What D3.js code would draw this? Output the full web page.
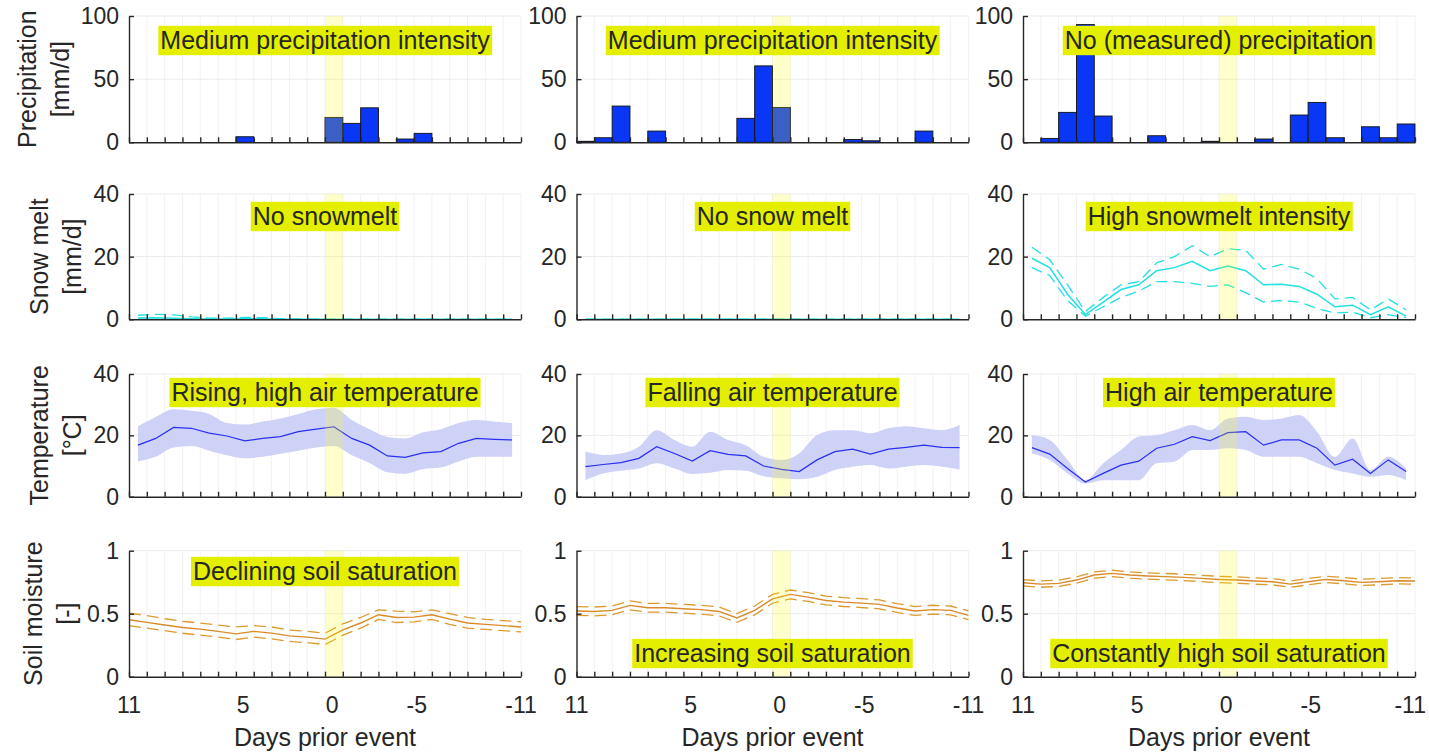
<!DOCTYPE html>
<html><head><meta charset="utf-8">
<script src="https://cdn.jsdelivr.net/npm/d3@7"></script>
<style>
body{margin:0;background:#fff}
svg{display:block}
text{font-family:"Liberation Sans",Arial,Helvetica,sans-serif;fill:#262626}
</style>
</head><body>
<svg id="chart" width="1429" height="754"></svg>
<script>
// ---------------- DATA ----------------
const xTickLabels = ["11", "5", "0", "-5", "-11"];
const xTickPos = [0, 6.4, 11.4, 16.15, 22];   // positions in bin units (0..22)
const eventBin = 11;                          // highlighted day-0 bin
const xTitle = "Days prior event";

// precipitation [mm/d], one value per daily bin (22 bins)
const precipCol1 = [0,0,0,0,0,0,4.4,0,0,0,0,19.7,15,27.3,0,2.6,7.1,0,0,0,0,0];
const precipCol2 = [0.8,3.6,28.7,0,8.9,0,0,0,0,19,60.5,27.6,0,0,0,2.2,1.2,0,0,8.9,0,0];
const precipCol3 = [0,3.1,23.7,93.2,20.8,0,0,5.2,0,0,0.8,0,0,2.6,0,21.6,31.6,3.6,0,12.3,3.6,14.5];

// snow melt [mm/d] (mean, upper, lower), bin centres
const snowMeanCol1 = [0.4,0.5,0.3,0.2,0.1,0.1,0.2,0.2,0,0,0,0,0,0,0,0,0,0,0,0,0,0];
const snowUpCol1   = [1.3,1.6,1.4,0.8,0.4,0.4,0.6,0.5,0.2,0.1,0,0,0,0,0,0,0,0,0,0,0,0];
const snowLoCol1   = [0,0,0,0,0,0,0,0,0,0,0,0,0,0,0,0,0,0,0,0,0,0];
const snowMeanCol2 = [0,0,0,0,0,0,0,0,0,0,0,0,0,0,0,0,0,0,0,0,0,0];
const snowUpCol2   = [0,0,0,0,0,0,0,0,0,0,0,0,0,0,0,0,0,0,0,0,0,0];
const snowLoCol2   = [0,0,0,0,0,0,0,0,0,0,0,0,0,0,0,0,0,0,0,0,0,0];
const snowMeanCol3 = [19.5,16.5,8,1.5,5.5,9.5,11,15.5,16.5,18.5,15.5,17,15.5,11,11.2,10.5,8,4,4.5,1.5,4,1];
const snowUpCol3   = [23,19,11,2.5,7,11,12,18,20,23.5,20,22.5,22,16,17.5,16,13,6.5,7,3,6.5,3];
const snowLoCol3   = [16.5,14,6,1,4,7,9,12,12,11.5,10.5,11,8.5,5.5,6,5.5,3.5,2,2.3,0.5,1.5,0.5];

// air temperature [°C] (mean, band upper, band lower), bin centres
const tempMeanCol1 = [16.8,19,22.6,22.3,20.7,19.8,18.2,19,19.6,21.2,22,22.8,19,16.8,13.3,12.8,14.3,14.7,17.4,19,18.7,18.5];
const tempUpCol1   = [23,26,28.5,28,27,24,23.5,24.5,25.5,27,28.5,29,25,22,19.5,19,21,22,24,25,24.5,24];
const tempLoCol1   = [11.5,13,16,16.5,15,13.5,12.5,13,14,15,16,16.5,13.5,11,8,7.5,9,9.5,11.5,13,13,13];
const tempMeanCol2 = [9.8,10.5,11.1,12.5,16.3,14.1,11.6,15,13.8,13.3,10,8.9,8.2,12,14.7,15.5,13.9,15.5,16.1,16.8,16.1,16];
const tempUpCol2   = [14.7,13.6,14.1,16.3,21.7,18.5,16.3,21.2,18.5,16.8,13,12,14.1,20.1,21.7,21.7,20.7,22.3,23,22.3,21.7,23.4];
const tempLoCol2   = [5.4,7.6,8.5,9.2,10.9,9.2,7.4,7.8,8.7,8.5,6.7,6,5.7,6.5,8.7,9.8,10.3,9.2,9.8,10.3,9.8,8.9];
const tempMeanCol3 = [16,13.9,9.2,4.8,7.6,10.3,11.6,15.8,17.1,19.6,18.3,20.9,21.2,16.8,18.5,18.5,15.8,10.3,12.2,7.6,12,8.2];
const tempUpCol3   = [20.1,18.5,12,5.4,10.9,15.2,19.6,20.1,21.7,23.4,21.7,25.5,26.1,25,25.5,26.6,21.2,13,19,8.7,13,9.2];
const tempLoCol3   = [14.1,12,7.6,4.3,5.4,5.4,5.4,10.9,11.4,15.2,15.2,15.8,15.2,13,13,13,10.9,8.7,7.6,6.5,7.1,5.4];

// soil moisture [-] (mean, upper, lower), at the 23 day ticks
const soilMeanCol1 = [0.452,0.431,0.41,0.39,0.378,0.36,0.34,0.36,0.346,0.324,0.314,0.298,0.372,0.426,0.492,0.47,0.473,0.492,0.457,0.426,0.415,0.405,0.395];
const soilUpCol1   = [0.505,0.485,0.46,0.44,0.425,0.41,0.395,0.405,0.395,0.37,0.36,0.345,0.42,0.47,0.53,0.52,0.515,0.53,0.5,0.47,0.455,0.445,0.435];
const soilLoCol1   = [0.405,0.385,0.365,0.345,0.33,0.315,0.295,0.315,0.3,0.28,0.27,0.255,0.33,0.385,0.455,0.43,0.435,0.455,0.415,0.385,0.375,0.365,0.355];
const soilMeanCol2 = [0.521,0.518,0.526,0.566,0.547,0.547,0.539,0.532,0.518,0.466,0.526,0.618,0.653,0.632,0.605,0.592,0.584,0.574,0.545,0.521,0.532,0.526,0.487];
const soilUpCol2   = [0.556,0.553,0.561,0.601,0.582,0.582,0.574,0.567,0.553,0.501,0.561,0.653,0.688,0.667,0.64,0.627,0.619,0.609,0.58,0.556,0.567,0.561,0.522];
const soilLoCol2   = [0.486,0.483,0.491,0.531,0.512,0.512,0.504,0.497,0.483,0.431,0.491,0.583,0.618,0.597,0.57,0.557,0.549,0.539,0.51,0.486,0.497,0.491,0.452];
const soilMeanCol3 = [0.746,0.735,0.741,0.767,0.807,0.82,0.807,0.799,0.794,0.788,0.78,0.772,0.767,0.759,0.754,0.735,0.754,0.772,0.762,0.749,0.754,0.762,0.759];
const soilUpCol3   = [0.771,0.76,0.766,0.792,0.832,0.845,0.832,0.824,0.819,0.813,0.805,0.797,0.792,0.784,0.779,0.76,0.779,0.797,0.787,0.774,0.779,0.787,0.784];
const soilLoCol3   = [0.721,0.71,0.716,0.742,0.782,0.795,0.782,0.774,0.769,0.763,0.755,0.747,0.742,0.734,0.729,0.71,0.729,0.747,0.737,0.724,0.729,0.737,0.734];

// y-axis ticks and titles
const precipTicks = [0, 50, 100];
const snowTicks = [0, 20, 40];
const tempTicks = [0, 20, 40];
const soilTicks = [0, 0.5, 1];
const rowTitles = [["Precipitation", "[mm/d]"], ["Snow melt", "[mm/d]"], ["Temperature", "[°C]"], ["Soil moisture", "[-]"]];

// panel annotations
const precipNotes = ["Medium precipitation intensity", "Medium precipitation intensity", "No (measured) precipitation"];
const snowNotes = ["No snowmelt", "No snow melt", "High snowmelt intensity"];
const tempNotes = ["Rising, high air temperature", "Falling air temperature", "High air temperature"];
const soilNotes = ["Declining soil saturation", "Increasing soil saturation", "Constantly high soil saturation"];
const soilNoteAtBottom = [false, true, true];

// ---------------- LAYOUT ----------------
const svg = d3.select("#chart");
const SVG_W = 1429;
const colX = [129, 576.5, 1023];
const W = 392;
const rowBox = [[16, 142.3], [194, 319.3], [374, 496.7], [550.7, 676.7]];
const noteCy = [40.5, 216.5, 392.5, 571.5];
const noteCyBottom = 653.5;
const INK = "#262626";
const TICK_FS = 23, LABEL_FS = 25;

const rowDefs = [
  {ticks: precipTicks, max: 100, notes: precipNotes, fmt: d3.format("d")},
  {ticks: snowTicks, max: 40, notes: snowNotes, fmt: d3.format("d")},
  {ticks: tempTicks, max: 40, notes: tempNotes, fmt: d3.format("d")},
  {ticks: soilTicks, max: 1, notes: soilNotes, fmt: d => d === 0.5 ? "0.5" : String(d)}
];
const precipData = [precipCol1, precipCol2, precipCol3];
const snowData = [[snowMeanCol1, snowUpCol1, snowLoCol1], [snowMeanCol2, snowUpCol2, snowLoCol2], [snowMeanCol3, snowUpCol3, snowLoCol3]];
const tempData = [[tempMeanCol1, tempUpCol1, tempLoCol1], [tempMeanCol2, tempUpCol2, tempLoCol2], [tempMeanCol3, tempUpCol3, tempLoCol3]];
const soilData = [[soilMeanCol1, soilUpCol1, soilLoCol1], [soilMeanCol2, soilUpCol2, soilLoCol2], [soilMeanCol3, soilUpCol3, soilLoCol3]];

const tickIdx = d3.range(23);

rowDefs.forEach((rd, r) => {
  const [top, bot] = rowBox[r];
  let minLabelX = 0;
  for (let c = 0; c < 3; c++) {
    const x = d3.scaleLinear().domain([0, 22]).range([colX[c], colX[c] + W]);
    const y = d3.scaleLinear().domain([0, rd.max]).range([bot, top]);
    const g = svg.append("g");

    // grid
    g.append("g").selectAll("line").data(tickIdx.slice(1)).join("line")
      .attr("x1", d => x(d)).attr("x2", d => x(d)).attr("y1", top).attr("y2", bot)
      .attr("stroke", "#f2f2f2").attr("stroke-width", 1);
    g.append("g").selectAll("line").data(rd.ticks.slice(1)).join("line")
      .attr("x1", x(0)).attr("x2", x(22)).attr("y1", d => y(d)).attr("y2", d => y(d))
      .attr("stroke", "#ebebeb").attr("stroke-width", 1);

    if (r === 0) {
      g.append("g").selectAll("rect").data(precipData[c]).join("rect")
        .attr("x", (d, i) => x(i)).attr("width", x(1) - x(0))
        .attr("y", d => y(d)).attr("height", d => y(0) - y(d))
        .attr("fill", "#0a37f5").attr("stroke", "#111").attr("stroke-width", 0.9);
    } else if (r === 1) {
      const [m, u, l] = snowData[c];
      const line = arr => d3.line().x((d, i) => x(i + 0.5)).y(d => y(d))(arr);
      [u, l].forEach(a => g.append("path").attr("d", line(a)).attr("fill", "none")
        .attr("stroke", "#22e0e0").attr("stroke-width", 1.3).attr("stroke-dasharray", "11,6"));
      g.append("path").attr("d", line(m)).attr("fill", "none").attr("stroke", "#22e0e0").attr("stroke-width", 1.5);
    } else if (r === 2) {
      const [m, u, l] = tempData[c];
      const area = d3.area().x((d, i) => x(i + 0.5)).y0((d, i) => y(l[i])).y1(d => y(d)).curve(d3.curveMonotoneX);
      g.append("path").attr("d", area(u)).attr("fill", "#cfd2f7").attr("stroke", "none");
      g.append("path").attr("d", d3.line().x((d, i) => x(i + 0.5)).y(d => y(d))(m))
        .attr("fill", "none").attr("stroke", "#2a2ff0").attr("stroke-width", 1.2);
    } else {
      const [m, u, l] = soilData[c];
      const line = arr => d3.line().x((d, i) => x(i)).y(d => y(d))(arr);
      [u, l].forEach(a => g.append("path").attr("d", line(a)).attr("fill", "none")
        .attr("stroke", "#dc9a2e").attr("stroke-width", 1.3).attr("stroke-dasharray", "12,6"));
      g.append("path").attr("d", line(m)).attr("fill", "none").attr("stroke", "#d98a2a").attr("stroke-width", 1.4);
    }

    // event band
    g.append("rect").attr("x", x(eventBin)).attr("width", x(eventBin + 1) - x(eventBin))
      .attr("y", top).attr("height", bot - top).attr("fill", "#ffff00").attr("opacity", 0.2);

    // axes
    const ya = g.append("g").attr("transform", `translate(${x(0)},0)`)
      .call(d3.axisLeft(y).tickValues(rd.ticks).tickFormat(rd.fmt).tickSizeInner(-5).tickSizeOuter(0).tickPadding(10));
    ya.selectAll("text").attr("font-size", TICK_FS).style("fill", INK);
    ya.selectAll("line,path").attr("stroke", INK).attr("stroke-width", 1.4);
    if (c === 0) {
      ya.selectAll(".tick text").each(function () {
        const b = this.getBBox();
        minLabelX = Math.min(minLabelX, b.x);
      });
    }
    const xa = g.append("g").attr("transform", `translate(0,${bot})`)
      .call(d3.axisBottom(x).tickValues(tickIdx).tickFormat("").tickSizeInner(-5).tickSizeOuter(0));
    xa.selectAll("line,path").attr("stroke", INK).attr("stroke-width", 1.4);

    if (r === 3) {
      g.append("g").selectAll("text").data(xTickLabels).join("text")
        .attr("x", (d, i) => x(xTickPos[i])).attr("y", bot + 36)
        .attr("text-anchor", "middle").attr("font-size", TICK_FS).text(d => d)
        .each(function () {
          // keep labels inside the page
          const b = this.getBBox();
          const over = b.x + b.width - (SVG_W - 3);
          if (over > 0) d3.select(this).attr("x", +d3.select(this).attr("x") - over);
        });
      g.append("text").attr("x", x(11)).attr("y", 746).attr("text-anchor", "middle")
        .attr("font-size", LABEL_FS).text(xTitle);
    }

    // annotation
    const cy = (r === 3 && soilNoteAtBottom[c]) ? noteCyBottom : noteCy[r];
    const ng = g.append("g");
    const t = ng.append("text").attr("x", x(11)).attr("y", cy).attr("dy", "0.35em")
      .attr("text-anchor", "middle").attr("font-size", LABEL_FS).text(rd.notes[c]);
    const bb = t.node().getBBox();
    ng.insert("rect", "text").attr("x", bb.x - 2).attr("width", bb.width + 4)
      .attr("y", cy - 14.7).attr("height", 29.4).attr("fill", "#e4ef00");
  }
  // row title (two lines, rotated)
  const l2 = colX[0] + minLabelX - 21;
  const l1 = l2 - 33;
  const cyRow = (top + bot) / 2;
  rowTitles[r].forEach((s, k) => {
    const xx = k === 0 ? l1 : l2;
    svg.append("text").attr("transform", `translate(${xx},${cyRow}) rotate(-90)`)
      .attr("text-anchor", "middle").attr("dominant-baseline", "central")
      .attr("font-size", LABEL_FS).text(s);
  });
});
</script>
</body></html>
